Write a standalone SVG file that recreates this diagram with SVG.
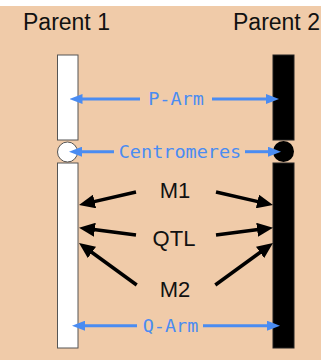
<svg xmlns="http://www.w3.org/2000/svg" width="325" height="360" viewBox="0 0 325 360">
  <defs>
    <style>
      .title { font-family: "Liberation Sans", Arial, sans-serif; font-size: 23px; fill: #111; }
      .mk { font-family: "Liberation Sans", Arial, sans-serif; font-size: 22px; fill: #111; text-anchor: middle; }
      .blue { font-family: "DejaVu Sans Mono", "Liberation Mono", monospace; font-size: 18.5px; fill: #4a8cf2; text-anchor: middle; }
      .bl { stroke: #4a8cf2; stroke-width: 3; fill: none; marker-end: url(#ba); }
      .kl { stroke: #000; stroke-width: 3.5; fill: none; marker-end: url(#ka); }
    </style>
    <marker id="ba" markerUnits="userSpaceOnUse" markerWidth="13" markerHeight="10" refX="3" refY="5" orient="auto">
      <path d="M0,0 L13,5 L0,10 z" fill="#4a8cf2"/>
    </marker>
    <marker id="ka" markerUnits="userSpaceOnUse" markerWidth="16" markerHeight="14" refX="5" refY="7" orient="auto">
      <path d="M0,0 L16,7 L0,14 z" fill="#000"/>
    </marker>
  </defs>
  <rect x="0" y="6" width="321" height="354" fill="#f0cba9"/>

  <g id="parent1-label"><text class="title" x="23" y="30">Parent 1</text></g>
  <g id="parent2-label"><text class="title" x="233" y="30">Parent 2</text></g>

  <g id="chromosome1">
    <rect x="57.5" y="55" width="20.5" height="85" fill="#fff" stroke="#555" stroke-width="1"/>
    <circle cx="67.5" cy="152" r="10" fill="#fff" stroke="#555" stroke-width="1"/>
    <rect x="57.5" y="163" width="20.5" height="185" fill="#fff" stroke="#555" stroke-width="1"/>
  </g>
  <g id="chromosome2">
    <rect x="273" y="55" width="21" height="85" fill="#000" stroke="#222" stroke-width="1"/>
    <circle cx="283.5" cy="151.5" r="10.5" fill="#000"/>
    <rect x="273" y="163" width="21" height="185" fill="#000" stroke="#222" stroke-width="1"/>
  </g>

  <g id="labels">
    <text class="blue" x="176" y="104.5">P-Arm</text>
    <text class="blue" x="180" y="157.7">Centromeres</text>
    <text class="blue" x="170.5" y="331.5">Q-Arm</text>
    <text class="mk" x="175" y="198">M1</text>
    <text class="mk" x="174" y="246">QTL</text>
    <text class="mk" x="175" y="296.5">M2</text>
  </g>

  <g id="connectors">
    <line class="bl" x1="140" y1="99" x2="79.5" y2="99"/>
    <line class="bl" x1="212" y1="99" x2="269" y2="99"/>
    <line class="bl" x1="114" y1="151.7" x2="79" y2="151.7"/>
    <line class="bl" x1="245" y1="151.7" x2="271" y2="151.7"/>
    <line class="bl" x1="137" y1="325.7" x2="82" y2="325.7"/>
    <line class="bl" x1="203" y1="325.7" x2="270" y2="325.7"/>

    <line class="kl" x1="136" y1="192" x2="89.7" y2="202.6"/>
    <line class="kl" x1="136" y1="235" x2="89.9" y2="229.1"/>
    <line class="kl" x1="136.7" y1="285" x2="87.9" y2="249.5"/>
    <line class="kl" x1="216" y1="192" x2="262.3" y2="202.6"/>
    <line class="kl" x1="216" y1="235" x2="262.1" y2="229.1"/>
    <line class="kl" x1="215.3" y1="285" x2="264.1" y2="249.5"/>
  </g>
</svg>
